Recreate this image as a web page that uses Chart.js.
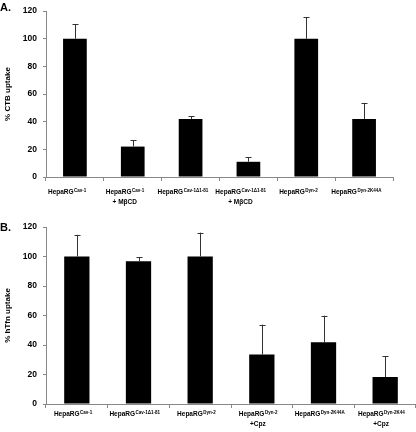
<!DOCTYPE html>
<html>
<head>
<meta charset="utf-8">
<script src="https://cdn.jsdelivr.net/npm/chart.js@4.4.1/dist/chart.umd.min.js"></script>
<style>
  html, body { margin: 0; padding: 0; background: #fff; }
  body { width: 416px; height: 432px; position: relative; overflow: hidden; font-family: "Liberation Sans", Arial, sans-serif; }
  .panel { position: absolute; left: 0; width: 416px; }
  .tag { position: absolute; left: 0; font-weight: bold; font-size: 11px; color: #000; }
</style>
</head>
<body>
<div class="panel" style="top:0;height:208px;"><canvas id="chartA"></canvas></div>
<div class="panel" style="top:208px;height:224px;"><canvas id="chartB"></canvas></div>
<div class="tag" style="top:1px;">A.</div>
<div class="tag" style="top:221px;">B.</div>
<script>
// Panel A - CTB
const supA = ['Cav-1', 'Cav-1', 'Cav-1Δ1-81', 'Cav-1Δ1-81', 'Dyn-2', 'Dyn-2K44A'];
const line2A = ['', '+ MβCD', '', '+ MβCD', '', ''];
const valA = [100, 22, 42, 11, 100, 42];
const errA = [10.5, 4.6, 2, 3.4, 15.7, 11.6];

// Panel B - hTfn
const supB = ['Cav-1', 'Cav-1Δ1-81', 'Dyn-2', 'Dyn-2', 'Dyn-2K44A', 'Dyn-2K44'];
const line2B = ['', '', '', '+Cpz', '', '+Cpz'];
const valB = [100, 96.7, 100, 33.5, 41.8, 18.3];
const errB = [14.7, 2.7, 16.2, 20.3, 18.1, 14];

const yTicks = [0, 20, 40, 60, 80, 100, 120];

// barras de error (solo hacia arriba) + etiquetas con superíndice
const extrasPlugin = {
    id: 'extras',
    afterDatasetsDraw(chart, args, opts) {
        const ctx = chart.ctx;
        const x = chart.scales.x, y = chart.scales.y;
        const vals = chart.data.datasets[0].data;
        ctx.save();
        ctx.strokeStyle = '#333';
        ctx.lineWidth = 1;
        vals.forEach((v, i) => {
            const px = Math.round(x.getPixelForValue(i)) + 0.5;
            const y0 = y.getPixelForValue(v);
            const y1 = y.getPixelForValue(v + opts.err[i]);
            ctx.beginPath();
            ctx.moveTo(px, y0);
            ctx.lineTo(px, y1);
            ctx.moveTo(px - 3, Math.round(y1) + 0.5);
            ctx.lineTo(px + 3, Math.round(y1) + 0.5);
            ctx.stroke();
        });
        // etiquetas
        const base = y.getPixelForValue(0);
        const fMain = 'bold 6.5px "Liberation Sans Narrow", "Liberation Sans", Arial';
        const fSup = 'bold 4.5px "Liberation Sans Narrow", "Liberation Sans", Arial';
        ctx.fillStyle = '#000';
        ctx.textBaseline = 'middle';
        vals.forEach((v, i) => {
            const cx = x.getPixelForValue(i) + opts.shift;
            ctx.font = fMain;
            const wMain = ctx.measureText('HepaRG').width;
            ctx.font = fSup;
            const wSup = ctx.measureText(opts.sup[i]).width;
            const left = cx - (wMain + wSup) / 2;
            const ly = base + opts.dy1;
            ctx.textAlign = 'left';
            ctx.font = fMain;
            ctx.fillText('HepaRG', left, ly);
            ctx.font = fSup;
            ctx.fillText(opts.sup[i], left + wMain + 0.5, ly - 1.8);
            if (opts.line2[i]) {
                ctx.textAlign = 'center';
                ctx.font = fMain;
                ctx.fillText(opts.line2[i], cx, base + opts.dy2);
            }
        });
        ctx.restore();
    }
};

function makeChart(id, vals, err, sup, line2, title, pad, xHeight, labelOpts) {
    return new Chart(document.getElementById(id), {
        type: 'bar',
        data: {
            labels: sup.map((s, i) => 'HepaRG ' + s + (line2[i] ? ' ' + line2[i] : '')),
            datasets: [{
                data: vals,
                backgroundColor: '#000',
                borderWidth: 0,
                barPercentage: 0.41,
                categoryPercentage: 1.0
            }]
        },
        options: {
            responsive: true,
            maintainAspectRatio: false,
            animation: false,
            layout: { padding: pad },
            scales: {
                x: {
                    grid: { drawOnChartArea: false, drawTicks: true, tickLength: 4, offset: true, color: '#888' },
                    border: { color: '#888', width: 1 },
                    ticks: { display: false },
                    afterFit: s => { s.height = xHeight; }
                },
                y: {
                    min: 0, max: 120,
                    afterBuildTicks: s => { s.ticks = yTicks.map(v => ({ value: v })); },
                    grid: { drawOnChartArea: false, drawTicks: true, tickLength: 3, color: '#888' },
                    border: { color: '#888', width: 1 },
                    ticks: { color: '#000', padding: 6, font: { family: '"Liberation Sans", Arial', size: 8.5, weight: 'bold' } },
                    title: { display: true, text: title, color: '#000', padding: { top: 3, bottom: 0 },
                             font: { family: '"Liberation Sans", Arial', size: 8, weight: 'bold' } },
                    afterFit: s => { s.width = 46; }
                }
            },
            plugins: {
                legend: { display: false },
                tooltip: { enabled: false },
                extras: Object.assign({ err: err, sup: sup, line2: line2 }, labelOpts)
            }
        },
        plugins: [extrasPlugin]
    });
}

makeChart('chartA', valA, errA, supA, line2A, '% CTB uptake',
    { top: 4, right: 23, left: 0, bottom: 0 }, 31, { shift: -8, dy1: 15.3, dy2: 25.5 });
makeChart('chartB', valB, errB, supB, line2B, '% hTfn uptake',
    { top: 19, right: 0, left: 0, bottom: 0 }, 28, { shift: -4, dy1: 10.7, dy2: 20.7 });
</script>
</body>
</html>
